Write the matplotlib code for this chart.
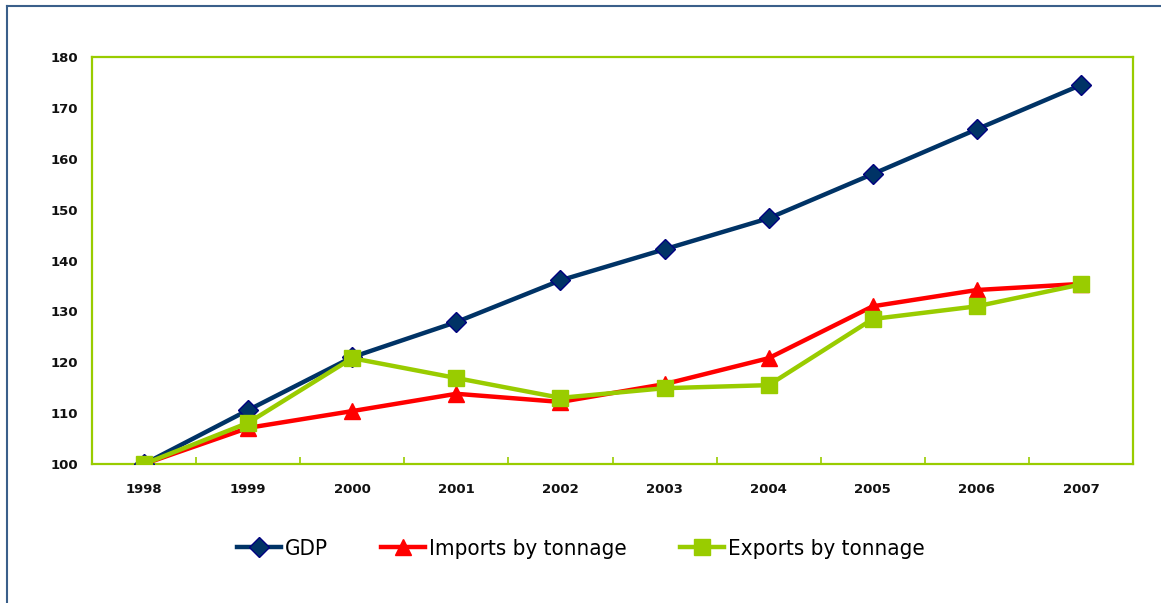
import matplotlib
matplotlib.use('Agg')
import matplotlib.pyplot as plt
from matplotlib.lines import Line2D

years = ['1998', '1999', '2000', '2001', '2002', '2003', '2004', '2005', '2006', '2007']
gdp = [100, 110.6, 121.0, 127.9, 136.1, 142.2, 148.3, 157.0, 165.8, 174.5]
imports_t = [100, 107.1, 110.4, 113.8, 112.2, 115.7, 120.8, 131.0, 134.2, 135.4]
exports_t = [100, 108.1, 120.8, 116.9, 113.0, 114.9, 115.5, 128.5, 131.0, 135.3]

green = '#99CC00'

fig = plt.figure(figsize=(11.61, 6.03), dpi=100)
ax = fig.add_axes([92 / 1161, 1 - 464 / 603, (1133 - 92) / 1161, (464 - 57) / 603])

x = list(range(len(years)))
ax.plot(x, gdp, color='#003366', lw=3.2, marker='D', ms=10,
        mfc='#003366', mec='#000080', mew=1, label='GDP', zorder=3)
ax.plot(x, imports_t, color='#FF0000', lw=3.2, marker='^', ms=11,
        mfc='#FF0000', mec='#FF0000', label='Imports by tonnage', zorder=4)
ax.plot(x, exports_t, color=green, lw=3.2, marker='s', ms=11,
        mfc=green, mec=green, label='Exports by tonnage', zorder=5)

ax.set_xlim(-0.5, len(years) - 0.5)
ax.set_ylim(100, 180)
ax.set_yticks(range(100, 181, 10))
ax.set_xticks(x)
ax.set_xticklabels(years)
ax.set_xticks([i + 0.5 for i in range(len(years) - 1)], minor=True)

for s in ax.spines.values():
    s.set_color(green)
    s.set_linewidth(1.6)

ax.tick_params(axis='x', which='major', length=0, pad=14)
ax.tick_params(axis='x', which='minor', direction='in', length=5, width=1.2, color=green)
ax.tick_params(axis='y', length=0, pad=10)
for lab in ax.get_xticklabels() + ax.get_yticklabels():
    lab.set_fontsize(9.5)
    lab.set_fontweight('bold')
    lab.set_color('#111111')

leg = fig.legend(loc='center', bbox_to_anchor=(0.5, 1 - 549 / 603), ncol=3,
                 frameon=False, handlelength=2.0, handletextpad=0.15, columnspacing=2.4,
                 prop={'family': 'DejaVu Sans', 'stretch': 'condensed', 'size': 16})

# outer frame of the chart
border = '#3A5F8A'
fig.add_artist(Line2D([7 / 1161, 7 / 1161], [0, 1 - 6 / 603], color=border, lw=1.5,
                      transform=fig.transFigure))
fig.add_artist(Line2D([7 / 1161, 1], [1 - 6 / 603, 1 - 6 / 603], color=border, lw=1.5,
                      transform=fig.transFigure))

fig.savefig('out.png', dpi=100)
